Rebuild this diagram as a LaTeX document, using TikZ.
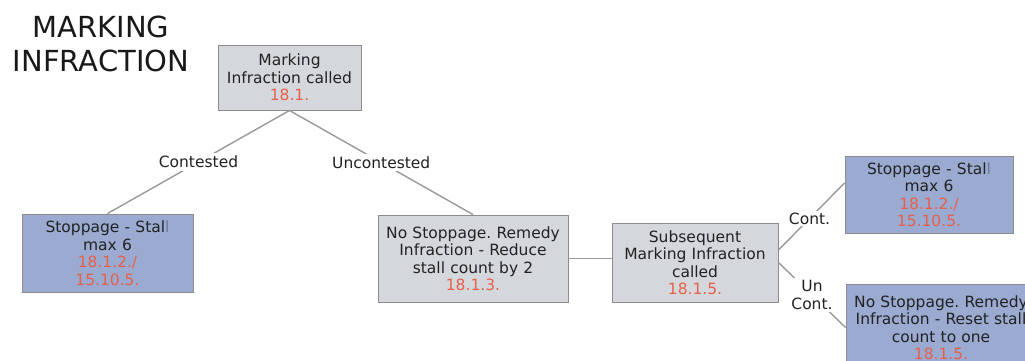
\documentclass[tikz,border=0pt]{standalone}
\usepackage{fontspec}
\setmainfont{DejaVu Sans}
\frenchspacing
\definecolor{boxgray}{HTML}{D4D8DC}
\definecolor{boxblue}{HTML}{9AAAD0}
\definecolor{edgegray}{HTML}{8C8C8C}
\definecolor{linkgray}{HTML}{9A9A9A}
\definecolor{rulered}{HTML}{E8604A}
\definecolor{inkdark}{HTML}{222222}
\newcommand\rulenum[1]{\textcolor{rulered}{#1}}
\newcommand\fadedl{\textcolor{inkdark!35!boxblue}{l}}
\tikzset{
  every node/.style={text=inkdark},
  card/.style={draw=edgegray, line width=0.9pt, inner sep=0pt, align=center,
    font=\fontsize{15.5}{17.5}\selectfont},
  graycard/.style={card, fill=boxgray},
  bluecard/.style={card, fill=boxblue},
  link/.style={draw=linkgray, line width=1.4pt},
  lbl/.style={fill=white, inner sep=3pt, align=center,
    font=\fontsize{15.5}{17.5}\selectfont},
  heading/.style={anchor=base, font=\fontsize{29}{33}\selectfont, text=black!90}
}
\begin{document}
\begin{tikzpicture}[x=1pt, y=-1pt]
\useasboundingbox (0,0) rectangle (1025,361);
\clip (0,0) rectangle (1025,361);
\fill[white] (0,0) rectangle (1025,361);

% heading
\node[heading] (head1) at (101,38) {MARKING};
\node[heading] (head2) at (101,71) {INFRACTION};

% decision boxes
\node[graycard, minimum width=143pt, minimum height=65pt, text width=140pt]
  (called) at (289.5,77.5) {Marking\\Infraction called\\\rulenum{18.1.}};
\node[bluecard, minimum width=171pt, minimum height=78pt, text width=165pt]
  (stallA) at (107.5,253) {Stoppage - Stal\fadedl\\max 6\\\rulenum{18.1.2./}\\\rulenum{15.10.5.}};
\node[graycard, minimum width=190pt, minimum height=87pt, text width=186pt]
  (reduce) at (473,258.5) {No Stoppage. Remedy\\Infraction - Reduce\\stall count by 2\\\rulenum{18.1.3.}};
\node[graycard, minimum width=166pt, minimum height=79pt, text width=162pt]
  (subseq) at (695,262.5) {Subsequent\\Marking Infraction\\called\\\rulenum{18.1.5.}};
\node[bluecard, minimum width=168pt, minimum height=77pt, text width=164pt]
  (stallB) at (929,194.5) {Stoppage - Stal\fadedl\\max 6\\\rulenum{18.1.2./}\\\rulenum{15.10.5.}};
\node[bluecard, minimum width=190pt, minimum height=87pt, text width=186pt]
  (reset) at (941,327.5) {No Stoppage. Remedy\\Infraction - Reset stall\\count to one\\\rulenum{18.1.5.}};

% connectors
\draw[link] (called.south) -- node[lbl, pos=0.5] (lcont) {Contested} (stallA.north);
\draw[link] (called.south) -- node[lbl, pos=0.5] (lunc) {Uncontested} (reduce.north);
\draw[link] (reduce.east) -- (reduce.east -| subseq.west);
\draw[link] ([yshift=12.5pt]subseq.east) -- node[lbl, pos=0.47, inner sep=2pt] (lcont2) {Cont.} ([yshift=11.5pt]stallB.west);
\draw[link] (subseq.east) -- node[lbl, pos=0.5, inner sep=2pt] (lunc2) {Un\\Cont.} (reset.west);
\end{tikzpicture}
\end{document}
